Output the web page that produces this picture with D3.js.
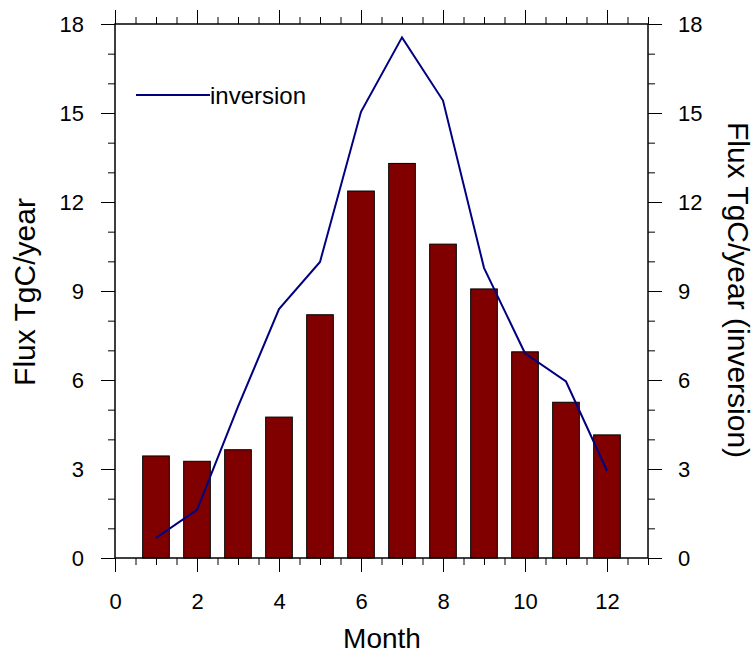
<!DOCTYPE html>
<html><head><meta charset="utf-8">
<script src="https://cdn.jsdelivr.net/npm/d3@7"></script>
<style>body{margin:0;background:#fff}svg{display:block}text{font-family:"Liberation Sans",Arial,sans-serif}</style>
</head><body>
<svg id="c" width="755" height="655"></svg>
<script>
const months = [1,2,3,4,5,6,7,8,9,10,11,12];
const barValues = [3.44,3.26,3.65,4.75,8.2,12.37,13.3,10.58,9.07,6.95,5.25,4.15];
const lineValues = [0.68,1.62,5.1,8.39,9.98,15.04,17.55,15.42,9.78,6.9,5.95,2.94];
const xMajorTicks = [0,2,4,6,8,10,12];
const yMajorTicks = [0,3,6,9,12,15,18];
const seriesName = "inversion";

const svg = d3.select("#c");
const L=115, R=648, T=24, B=558;
const x = d3.scaleLinear().domain([0,13]).range([L,R]);
const y = d3.scaleLinear().domain([0,18]).range([B,T]);

// bars
const bw = (x(1)-x(0))*0.65;
svg.append("g").selectAll("rect").data(months).join("rect")
  .attr("x", (d)=>x(d)-bw/2).attr("y",(d,i)=>y(barValues[i]))
  .attr("width", bw).attr("height",(d,i)=>y(0)-y(barValues[i]))
  .attr("fill","#800000").attr("stroke","#000").attr("stroke-width",1);

// line
svg.append("path").datum(months)
  .attr("d", d3.line().x(d=>x(d)).y((d,i)=>y(lineValues[i])))
  .attr("fill","none").attr("stroke","#000080").attr("stroke-width",2);

// axes
const xMinor = d3.range(0,13.01,0.5);
const yMinor = d3.range(0,18.01,1);
function styleAxis(g){
  g.selectAll(".domain").remove();
  g.selectAll(".tick line").attr("stroke","#000").attr("stroke-width",1);
  g.selectAll("text").attr("font-size","22px").attr("fill","#000");
}
// bottom
svg.append("g").attr("transform",`translate(0,${B})`)
  .call(d3.axisBottom(x).tickValues(xMinor).tickSize(7).tickFormat(""))
  .call(styleAxis);
svg.append("g").attr("transform",`translate(0,${B})`)
  .call(d3.axisBottom(x).tickValues(xMajorTicks).tickSize(14).tickPadding(21).tickFormat(d3.format("d")))
  .call(styleAxis);
// top
svg.append("g").attr("transform",`translate(0,${T})`)
  .call(d3.axisTop(x).tickValues(xMinor).tickSize(7).tickFormat(""))
  .call(styleAxis);
svg.append("g").attr("transform",`translate(0,${T})`)
  .call(d3.axisTop(x).tickValues(xMajorTicks).tickSize(14).tickFormat(""))
  .call(styleAxis);
// left
svg.append("g").attr("transform",`translate(${L},0)`)
  .call(d3.axisLeft(y).tickValues(yMinor).tickSize(7).tickFormat(""))
  .call(styleAxis);
svg.append("g").attr("transform",`translate(${L},0)`)
  .call(d3.axisLeft(y).tickValues(yMajorTicks).tickSize(14).tickPadding(17).tickFormat(d3.format("d")))
  .call(styleAxis);
// right
svg.append("g").attr("transform",`translate(${R},0)`)
  .call(d3.axisRight(y).tickValues(yMinor).tickSize(7).tickFormat(""))
  .call(styleAxis);
svg.append("g").attr("transform",`translate(${R},0)`)
  .call(d3.axisRight(y).tickValues(yMajorTicks).tickSize(14).tickPadding(16).tickFormat(d3.format("d")))
  .call(styleAxis);

// frame
svg.append("rect").attr("x",L).attr("y",T).attr("width",R-L).attr("height",B-T)
  .attr("fill","none").attr("stroke","#000").attr("stroke-width",1.5);

// legend
svg.append("line").attr("x1",136).attr("x2",210).attr("y1",95).attr("y2",95)
  .attr("stroke","#000080").attr("stroke-width",2);
svg.append("text").attr("x",210).attr("y",104).attr("font-size","24px").text(seriesName);

// titles
svg.append("text").attr("x",382).attr("y",648).attr("text-anchor","middle")
  .attr("font-size","28px").text("Month");
svg.append("text").attr("transform",`translate(35,292) rotate(-90)`)
  .attr("text-anchor","middle").attr("font-size","30px").text("Flux TgC/year");
svg.append("text").attr("transform",`translate(728,290) rotate(90)`)
  .attr("text-anchor","middle").attr("font-size","30px").text("Flux TgC/year (inversion)");
</script>
</body></html>
